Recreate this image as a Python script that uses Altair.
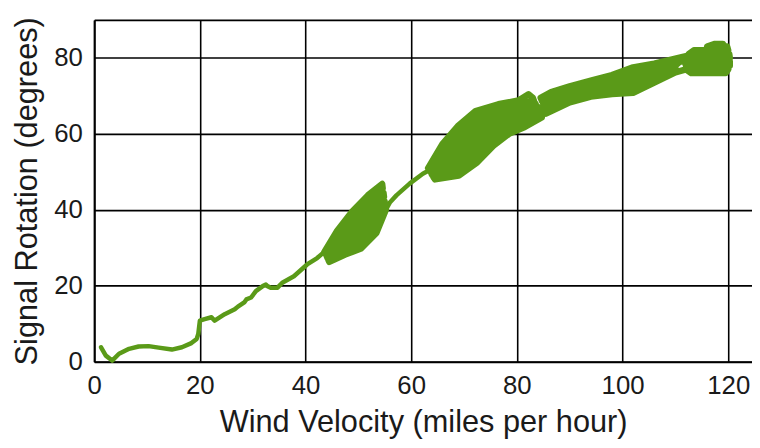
import altair as alt
import pandas as pd

# Wind velocity (mph) / signal rotation (degrees), traced in recording order, by stretch
tail_wind = [1.3, 2.2, 3.4, 4.7, 6.6, 8.4, 10.3, 12.2, 14.7, 16.6, 18.4, 19.4, 19.7, 20.0, 20.9, 22.2, 22.8,
             24.7, 26.6, 27.2, 28.4, 28.8, 29.7, 30.6, 31.9, 32.5, 32.8, 33.4, 34.7, 35.6, 37.8, 40.3, 42.2]
tail_rot = [3.8, 1.6, 0.3, 2.1, 3.4, 4.0, 4.1, 3.7, 3.2, 3.8, 4.9, 6.0, 7.3, 10.8, 11.2, 11.7, 10.8,
            12.5, 13.8, 14.5, 15.6, 16.4, 16.9, 18.6, 19.9, 20.3, 19.9, 19.5, 19.5, 20.8, 22.5, 25.6, 27.3]

c1_wind = [43.6, 46.0, 48.8, 51.8, 54.5,
           54.6, 52.1, 49.1, 46.25, 43.75,
           43.9, 46.5, 49.4, 52.35, 54.75,
           54.85, 52.6, 49.65, 46.75, 44.05,
           44.2, 47.0, 49.95, 52.9, 54.95,
           55.1, 53.15, 50.2, 47.25, 44.35,
           44.5, 47.5, 50.5, 53.4, 55.2]
c1_rot = [29.0, 34.5, 39.5, 43.8, 46.8,
          45.65, 42.15, 37.9, 33.45, 28.55,
          28.1, 32.4, 36.3, 40.5, 44.5,
          43.4, 38.85, 34.65, 31.35, 27.65,
          27.2, 30.3, 33.0, 37.2, 42.3,
          41.15, 35.55, 31.4, 29.25, 26.75,
          26.3, 28.2, 29.8, 33.9, 40.0]

link_wind = [56.0, 57.2, 59.7, 62.2, 63.4]
link_rot = [42.0, 43.8, 46.9, 49.5, 50.4]

c2_wind = [63.2, 65.9, 68.8, 72.2, 76.5, 80.3, 82.2, 83.0,
           83.2, 80.5, 76.8, 72.7, 69.3, 66.3, 63.4,
           63.6, 66.8, 69.9, 73.1, 77.1, 80.6, 83.5,
           83.7, 80.8, 77.4, 73.6, 70.4, 67.2, 63.8,
           63.9, 67.7, 70.9, 74.1, 77.6, 81.0, 84.0,
           84.2, 81.2, 77.9, 74.6, 71.4, 68.1, 64.1,
           64.3, 68.6, 72.0, 75.0, 78.2, 81.3, 84.5,
           84.7, 81.5, 78.5, 75.5, 72.5, 69.0, 64.5,
           63.9, 67.5, 70.7, 73.9, 77.5, 80.9, 83.9,
           # band 85-112 mph
           84.8, 88.0, 90.0, 94.0, 98.0, 102.0, 106.0, 110.0,
           112.0, 110.0, 106.0, 102.0, 98.0, 94.0, 90.0, 86.5, 84.5,
           84.8, 87.5, 90.0, 94.0, 98.0, 102.0, 106.0, 110.0,
           110.0, 106.0, 102.0, 98.0, 94.0, 90.0, 87.0, 84.8,
           85.5, 88.0, 90.0, 94.0, 98.0, 102.0, 106.0, 110.0, 112.0,
           # top cluster 112-120 mph
           113.0, 119.5, 120.0, 112.5, 112.0, 120.3, 120.3, 111.5, 111.5, 120.3, 120.2, 112.5,
           113.5, 120.0, 119.8, 116.0, 117.5, 119.0, 119.5]
c2_rot = [51.0, 57.3, 62.0, 66.0, 67.8, 68.8, 70.4, 69.5,
          68.8, 67.8, 66.7, 64.7, 60.6, 56.1, 50.6,
          50.1, 54.9, 59.3, 63.4, 65.6, 66.8, 68.0,
          67.3, 65.8, 64.5, 62.1, 57.9, 53.7, 49.7,
          49.3, 52.6, 56.6, 60.7, 63.3, 64.8, 66.5,
          65.8, 63.8, 62.2, 59.4, 55.2, 51.4, 48.9,
          48.4, 50.2, 53.9, 58.1, 61.1, 62.8, 65.0,
          64.3, 61.8, 60.0, 56.8, 52.5, 49.0, 48.0,
          49.5, 53.1, 57.2, 61.4, 63.9, 65.3, 66.9,
          67.0, 69.3, 70.4, 71.9, 73.0, 74.2, 76.0, 78.0,
          80.5, 79.8, 78.5, 77.5, 75.5, 74.0, 72.5, 71.0, 69.5,
          68.5, 70.5, 71.5, 73.0, 74.3, 75.8, 77.3, 78.9,
          77.1, 74.8, 72.5, 71.8, 70.9, 69.4, 67.8, 66.0,
          65.3, 67.0, 68.3, 69.8, 70.5, 70.8, 73.5, 76.2, 77.0,
          76.0, 76.0, 77.0, 77.0, 78.0, 78.0, 79.0, 79.0, 80.0, 80.0, 81.0, 81.0,
          82.0, 82.0, 83.0, 83.0, 83.7, 83.7, 81.5]

x_ticks = [0, 20, 40, 60, 80, 100, 120]
y_ticks = [0, 20, 40, 60, 80, 90]

parts = [("tail", tail_wind, tail_rot), ("c1", c1_wind, c1_rot),
         ("link", link_wind, link_rot), ("c2", c2_wind, c2_rot)]
rows = []
for name, xs, ys in parts:
    for x, y in zip(xs, ys):
        rows.append({"i": len(rows), "part": name, "wind": x, "rot": y})
df = pd.DataFrame(rows)

FONT = "Liberation Sans"
GREEN = "#5a9a18"

x_enc = alt.X(
    "wind:Q",
    scale=alt.Scale(domain=[0, 124.5], nice=False, zero=False),
    axis=alt.Axis(
        title="Wind Velocity (miles per hour)",
        values=x_ticks,
        grid=True,
        ticks=False,
        labelPadding=11,
        titleY=70,
        titleBaseline="alphabetic",
    ),
)
y_enc = alt.Y(
    "rot:Q",
    scale=alt.Scale(domain=[0, 90], nice=False),
    axis=alt.Axis(
        title="Signal Rotation (degrees)",
        values=y_ticks,
        labelExpr="datum.value == 90 ? '' : datum.label",
        grid=True,
        ticks=False,
        labelPadding=12,
        titleX=-58,
        titleBaseline="alphabetic",
    ),
)

base = alt.Chart(df)
path = base.mark_line(color=GREEN, strokeWidth=4.5, strokeJoin="round", strokeCap="round").encode(
    x=x_enc, y=y_enc, order=alt.Order("i:Q")
)
clusters = (
    base.transform_filter("datum.part == 'c1' || datum.part == 'c2'")
    .mark_line(color=GREEN, strokeWidth=6.5, strokeJoin="round", strokeCap="round")
    .encode(x="wind:Q", y="rot:Q", detail="part:N", order=alt.Order("i:Q"))
)

chart = (
    alt.layer(path, clusters)
    .properties(
        width=664,
        height=345,
        autosize=alt.AutoSizeParams(type="none"),
        padding={"left": 87, "top": 10, "right": 0, "bottom": 77},
        background="white",
    )
    .configure_view(stroke=None)
    .configure_axis(
        domainColor="#000000",
        domainWidth=2,
        gridColor="#000000",
        gridWidth=1.6,
        gridOpacity=1,
        labelFont=FONT,
        labelFontSize=26,
        labelColor="#1a1a1a",
        titleFont=FONT,
        titleFontSize=31,
        titleFontWeight="normal",
        titleColor="#1a1a1a",
        labelFlush=False,
        labelOverlap=False,
    )
)

chart.save("out.html", embed_options={"renderer": "svg", "actions": False})
